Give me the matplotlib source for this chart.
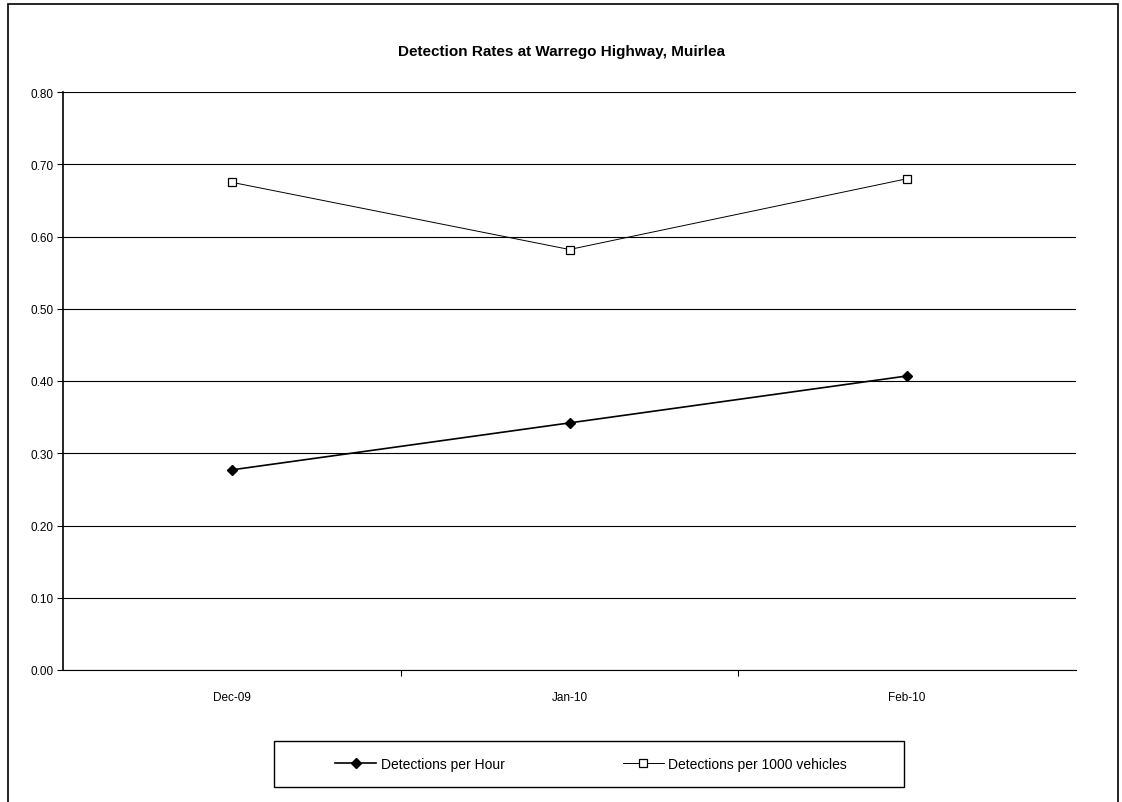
"""Detection rates chart for the Warrego Highway site at Muirlea."""

import matplotlib.pyplot as plt
from matplotlib.patches import Rectangle

months = ['Dec-09', 'Jan-10', 'Feb-10']
per_hour = [0.277, 0.342, 0.407]
per_1000_vehicles = [0.675, 0.582, 0.680]
y_ticks = [0.0, 0.1, 0.2, 0.3, 0.4, 0.5, 0.6, 0.7, 0.8]

W, H = 1122, 803

plt.rcParams['font.family'] = ['Liberation Sans', 'DejaVu Sans']

fig = plt.figure(figsize=(W / 100, H / 100), dpi=100)
ax = fig.add_axes([63 / W, 1 - 671 / H, 1013 / W, 578 / H])

x = list(range(len(months)))
ax.plot(x, per_hour, color='black', linewidth=1.2, marker='D', markersize=5,
        markerfacecolor='black', label='Detections per Hour')
ax.plot(x, per_1000_vehicles, color='black', linewidth=0.7, marker='s',
        markersize=6, markerfacecolor='white', markeredgewidth=0.9,
        label='Detections per 1000 vehicles')

ax.set_xlim(-0.5, len(months) - 0.5)
ax.set_ylim(0, 0.8)
ax.set_yticks(y_ticks)
ax.set_yticklabels(['%.2f' % v for v in y_ticks], fontsize=8.5)
ax.set_xticks(x)
ax.set_xticklabels(months, fontsize=8.5)
ax.tick_params(axis='x', length=0, pad=15)
ax.tick_params(axis='y', length=4, width=0.8, direction='out', pad=3)
# category boundary ticks on the x axis
ax.set_xticks([i + 0.5 for i in range(len(months) - 1)], minor=True)
ax.tick_params(axis='x', which='minor', length=4, width=0.8)

ax.grid(axis='y', color='black', linewidth=0.8)
ax.set_axisbelow(True)
for side in ['top', 'right']:
    ax.spines[side].set_visible(False)
ax.spines['left'].set_linewidth(1.2)
ax.spines['bottom'].set_linewidth(0.8)

fig.text(0.5, 1 - 52 / H, 'Detection Rates at Warrego Highway, Muirlea',
         ha='center', va='center', fontsize=11, fontweight='bold')

# legend entries without their own frame, boxed separately below
leg = fig.legend(loc='center', bbox_to_anchor=(591 / W, 1 - 765 / H),
                 ncol=2, fontsize=10, frameon=False, handlelength=3,
                 handletextpad=0.3, columnspacing=8.5, borderpad=0)
fig.patches.append(Rectangle((274 / W, 1 - 788 / H), 630 / W, 46 / H,
                             transform=fig.transFigure, fill=False,
                             edgecolor='black', linewidth=1.0))

# outer chart border
fig.patches.append(Rectangle((8 / W, -0.01), 1110 / W, 1 - 5 / H + 0.01,
                             transform=fig.transFigure, fill=False,
                             edgecolor='black', linewidth=1.2))

fig.savefig('out.png', dpi=100)
